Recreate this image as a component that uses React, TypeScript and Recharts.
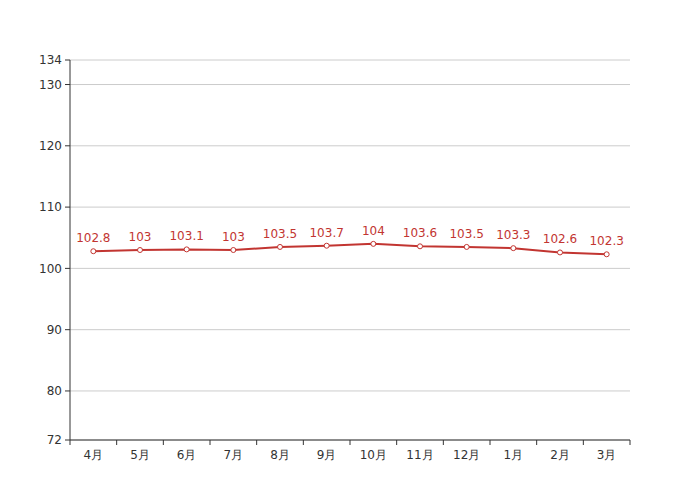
import { CartesianGrid, LabelList, Line, LineChart, XAxis, YAxis } from "recharts";

const months = ["4月", "5月", "6月", "7月", "8月", "9月", "10月", "11月", "12月", "1月", "2月", "3月"];
const values = [102.8, 103, 103.1, 103, 103.5, 103.7, 104, 103.6, 103.5, 103.3, 102.6, 102.3];
const yTicks = [72, 80, 90, 100, 110, 120, 130, 134];

const W = 700;
const H = 500;
const M = { top: 60, right: 70, bottom: 30, left: 0 };
const Y_AXIS_W = 70;
const X_AXIS_H = 30;
const PLOT_W = W - M.left - M.right - Y_AXIS_W;
const BAND = PLOT_W / months.length;
const TICK_SIZE = 5;
const TICK_MARGIN = 5;
const RED = "#c23531";
const INK = "#333";
const FONT = "DejaVu Sans";

function MonthTick(props: any) {
  const { x, y, payload, index } = props;
  const axisY = y - TICK_SIZE - TICK_MARGIN;
  const edge = x - BAND / 2;
  return (
    <g>
      <line x1={edge} x2={edge} y1={axisY} y2={axisY + TICK_SIZE} stroke={INK} />
      {index === months.length - 1 && (
        <line x1={x + BAND / 2} x2={x + BAND / 2} y1={axisY} y2={axisY + TICK_SIZE} stroke={INK} />
      )}
      <text x={x} y={y} dy="0.71em" textAnchor="middle" fill={INK} fontSize={12} fontFamily={FONT}>
        {payload.value}
      </text>
    </g>
  );
}

export default function App() {
  const data = months.map((m, i) => ({ month: m, value: values[i] }));

  return (
    <div style={{ position: "absolute", left: 0, top: 0, width: W, height: H, background: "#fff", fontFamily: FONT }}>
      <LineChart width={W} height={H} data={data} margin={M}>
        <CartesianGrid vertical={false} stroke="#ccc" />
        <XAxis
          dataKey="month"
          scale="band"
          height={X_AXIS_H}
          stroke={INK}
          tickLine={false}
          tickSize={TICK_SIZE}
          tickMargin={TICK_MARGIN}
          interval={0}
          tick={<MonthTick />}
        />
        <YAxis
          width={Y_AXIS_W}
          domain={[72, 134]}
          ticks={yTicks}
          interval={0}
          stroke={INK}
          tickSize={TICK_SIZE}
          tickMargin={3}
          tick={{ fill: INK, fontSize: 12, fontFamily: FONT }}
          allowDataOverflow
        />
        <Line
          type="linear"
          dataKey="value"
          stroke={RED}
          strokeWidth={2}
          dot={{ r: 2.5, fill: "#fff", stroke: RED, strokeWidth: 1 }}
          isAnimationActive={false}
        >
          <LabelList dataKey="value" position="top" offset={9} fill={RED} fontSize={12} fontFamily={FONT} />
        </Line>
      </LineChart>
    </div>
  );
}
